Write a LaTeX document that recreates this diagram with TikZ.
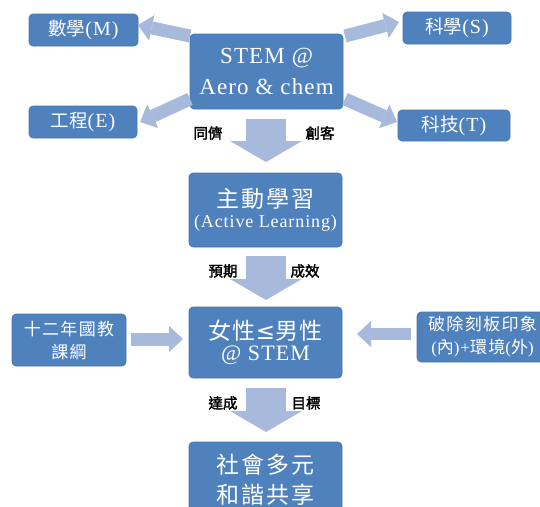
\documentclass[tikz,border=0pt]{standalone}
\usepackage{fontspec}
\setmainfont{Noto Sans CJK TC}
\newfontfamily\lat{Liberation Serif}[LetterSpace=5]
\newfontfamily\lbl{Noto Sans CJK TC}[FakeBold=2]
\newfontfamily\sym{DejaVu Sans}
\newfontfamily\cjkwide{Noto Sans CJK TC}[LetterSpace=8]
\usetikzlibrary{arrows.meta}
\definecolor{boxblue}{HTML}{4F81BD}
\definecolor{boxedge}{HTML}{4676B0}
\definecolor{arrowblue}{HTML}{A8BADC}
\tikzset{
  bluebox/.style={draw=boxedge, line width=0.6pt, fill=boxblue, rounded corners=4pt, text=white, align=center, inner sep=0pt},
  bigarrow/.style={draw=arrowblue, line width=40pt, -{Triangle[width=72pt,length=21pt,line width=0pt]}},
  smallarrow/.style={draw=arrowblue, line width=13pt, -{Triangle[width=26pt,length=14pt,line width=0pt]}},
  lab/.style={font=\lbl\fontsize{14.5}{16}\selectfont, text=black, inner sep=0pt},
  smalltxt/.style={font=\fontsize{18.5}{22}\selectfont},
  midtxt/.style={font=\cjkwide\fontsize{17}{23}\selectfont}
}
\newcommand{\boxlat}[1]{{\lat\fontsize{20}{22}\selectfont #1}}
\begin{document}
\begin{tikzpicture}[x=1pt,y=-1pt]
\useasboundingbox (0,0) rectangle (540,506);
\fill[white] (0,0) rectangle (540,506);
\clip (0,0) rectangle (540,506);
% boxes
\node[bluebox, smalltxt, minimum width=109pt, minimum height=32pt] (math) at (83.5,30) {數學\boxlat{(M)}};
\node[bluebox, smalltxt, minimum width=108pt, minimum height=32pt] (sci) at (457,28) {科學\boxlat{(S)}};
\node[bluebox, smalltxt, minimum width=108pt, minimum height=32pt] (eng) at (83,122) {工程\boxlat{(E)}};
\node[bluebox, smalltxt, minimum width=112pt, minimum height=31pt] (tech) at (454,125.5) {科技\boxlat{(T)}};
\node[bluebox, minimum width=153pt, minimum height=75pt, font=\lat\fontsize{23}{31}\selectfont] (stem) at (266.5,71.5) {STEM @\\Aero \& chem};
\node[bluebox, minimum width=153pt, minimum height=74pt] (active) at (265.5,210) {{\cjkwide\fontsize{23}{28}\selectfont 主動學習}\\[4pt]{\lat\fontsize{18}{20}\selectfont (Active Learning)}};
\node[bluebox, minimum width=153pt, minimum height=71pt] (gender) at (265.5,342.5) {{\cjkwide\fontsize{23}{28}\selectfont 女性{\sym ≤}男性}\\[4pt]{\lat\fontsize{22}{22}\selectfont @ STEM}};
\node[bluebox, midtxt, minimum width=114pt, minimum height=52pt] (curr) at (69,340) {十二年國教\\課綱};
\node[bluebox, midtxt, minimum width=131pt, minimum height=50pt] (stereo) at (482.5,337) {破除刻板印象\\{\lat(}內{\lat)+}環境{\lat(}外{\lat)}};
\node[bluebox, minimum width=153pt, minimum height=76pt, font=\cjkwide\fontsize{23}{30}\selectfont] (society) at (265.5,480) {社會多元\\和諧共享};
% arrow end points
\coordinate (a1s) at (266,119); \coordinate (a1e) at (266,162);
\coordinate (a2s) at (266,256); \coordinate (a2e) at (266,300);
\coordinate (a3s) at (266,388); \coordinate (a3e) at (266,432);
\coordinate (mS) at (190,36);  \coordinate (mE) at (138,25);
\coordinate (sS) at (345,36);  \coordinate (sE) at (399,22);
\coordinate (eS) at (190,99);  \coordinate (eE) at (140,122);
\coordinate (tS) at (345,99);  \coordinate (tE) at (397,122);
\coordinate (lS) at (131,339); \coordinate (lE) at (183,339);
\coordinate (rS) at (411,334); \coordinate (rE) at (357,334);
% arrows
\draw[bigarrow] (a1s) -- (a1e);
\draw[bigarrow] (a2s) -- (a2e);
\draw[bigarrow] (a3s) -- (a3e);
\draw[smallarrow] (mS) -- (mE);
\draw[smallarrow] (sS) -- (sE);
\draw[smallarrow] (eS) -- (eE);
\draw[smallarrow] (tS) -- (tE);
\draw[smallarrow] (lS) -- (lE);
\draw[smallarrow, line width=12pt] (rS) -- (rE);
% labels
\node[lab] (l1) at (208,133) {同儕};
\node[lab] (l2) at (320,133) {創客};
\node[lab] (l3) at (223,271) {預期};
\node[lab] (l4) at (305,271) {成效};
\node[lab] (l5) at (223,403) {達成};
\node[lab] (l6) at (306,403) {目標};
\end{tikzpicture}
\end{document}
